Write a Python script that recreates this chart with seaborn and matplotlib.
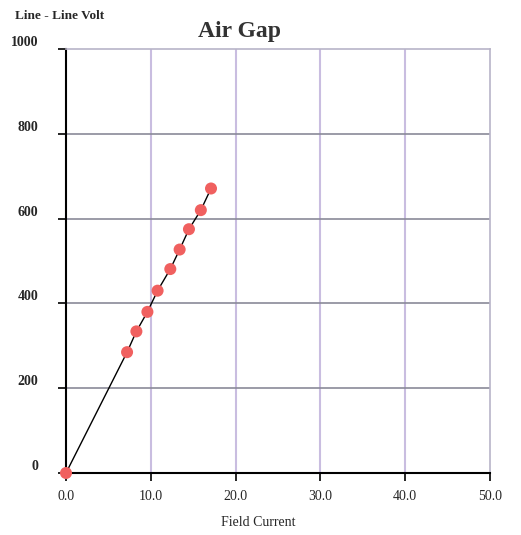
import matplotlib
matplotlib.use("Agg")
import matplotlib.pyplot as plt
import seaborn as sns
import pandas as pd

field_current = [0.0, 7.2, 8.3, 9.6, 10.8, 12.3, 13.4, 14.5, 15.9, 17.1]
line_volt = [0, 285, 334, 380, 430, 481, 527, 575, 620, 671]
x_ticks = [0, 10, 20, 30, 40, 50]
x_tick_labels = ["0.0", "10.0", "20.0", "30.0", "40.0", "50.0"]
y_ticks = [0, 200, 400, 600, 800, 1000]
y_tick_labels = ["0", "200", "400", "600", "800", "1000"]

sns.set_style("white")
plt.rcParams['font.family'] = ['Liberation Serif', 'DejaVu Serif']

df = pd.DataFrame({"Field Current": field_current, "Line Volt": line_volt})

fig = plt.figure(figsize=(5.21, 5.35), dpi=100)
ax = fig.add_axes([66/521, 1-473/535, 424/521, 424/535])

sns.lineplot(data=df, x="Field Current", y="Line Volt", ax=ax, color="black",
             linewidth=1.0, zorder=3)
sns.scatterplot(data=df, x="Field Current", y="Line Volt", ax=ax, color="#f0605f",
                s=75, edgecolor="none", zorder=5, clip_on=False)

ax.set_xlim(0, 50)
ax.set_ylim(0, 1000)
ax.set_xticks(x_ticks)
ax.set_xticklabels(x_tick_labels)
ax.set_yticks(y_ticks)
ax.set_yticklabels(y_tick_labels)

for v in x_ticks[1:-1]:
    ax.axvline(v, color="#c9bde0", linewidth=1.5, zorder=1)
for v in y_ticks[1:-1]:
    ax.axhline(v, color="#8a8a98", linewidth=1.2, zorder=1)

for side in ["left", "bottom"]:
    ax.spines[side].set_color("black")
    ax.spines[side].set_linewidth(1.5)
for side in ["top", "right"]:
    ax.spines[side].set_color("#b8b4c8")
    ax.spines[side].set_linewidth(1.2)
    ax.spines[side].set_visible(True)

ax.tick_params(axis="both", which="both", direction="out", length=6, width=1.2,
               color="black", labelsize=10, bottom=True, left=True)
ax.tick_params(axis="y", pad=14)
ax.tick_params(axis="x", pad=6)
for lbl in ax.get_yticklabels():
    lbl.set_fontweight("bold")
    lbl.set_verticalalignment("bottom")
ax.set_xlabel("")
ax.set_ylabel("")

fig.text(258/521, 1-523/535, "Field Current", ha="center", va="center", fontsize=10)
fig.text(15/521, 1-16/535, "Line - Line Volt", ha="left", va="center", fontsize=9.5,
         fontweight="bold")
fig.text(240/521, 1-31/535, "Air Gap", ha="center", va="center", fontsize=17,
         fontweight="bold", color="#333333")

fig.savefig("out.png", dpi=100)
